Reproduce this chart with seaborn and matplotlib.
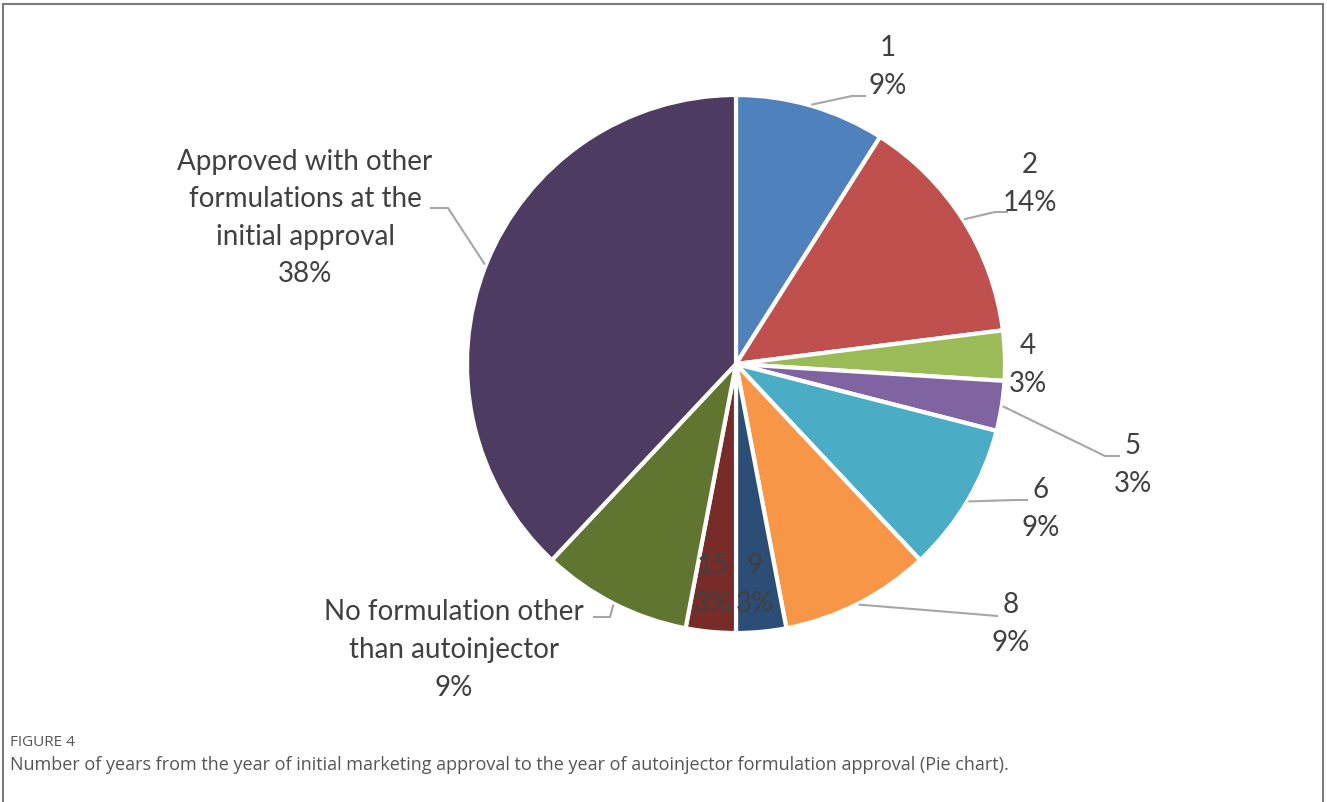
import matplotlib
matplotlib.use("Agg")
import numpy as np
import matplotlib.pyplot as plt
import seaborn as sns
from matplotlib.patches import Rectangle

# Share of products by years between initial approval and autoinjector approval
categories = ["1", "2", "4", "5", "6", "8", "9", "15",
              "No formulation other\nthan autoinjector",
              "Approved with other\nformulations at the\ninitial approval"]
percent = [9, 14, 3, 3, 9, 9, 3, 3, 9, 38]
colors = ["#4F81BD", "#C0504D", "#9BBB59", "#8064A2", "#4BACC6",
          "#F79646", "#2C4D75", "#772C2A", "#5F7530", "#4D3B62"]

caption_head = "FIGURE 4"
caption_body = ("Number of years from the year of initial marketing approval to the year "
                "of autoinjector formulation approval (Pie chart).")

W, H = 1327, 802
sns.set_theme(style="white")
plt.rcParams["font.family"] = ["Lato", "DejaVu Sans"]

fig = plt.figure(figsize=(W / 100, H / 100), dpi=100)
ax = fig.add_axes([0, 0, 1, 1])

cx, cy, R = 736, H - 364, 269
wedges, _ = ax.pie(percent, colors=colors, startangle=90, counterclock=False,
                   center=(cx, cy), radius=R,
                   wedgeprops=dict(edgecolor="white", linewidth=3))
ax.set_xlim(0, W)
ax.set_ylim(0, H)
ax.set_aspect("auto")
ax.axis("off")

TXT = "#404040"
LEAD = "#A6A6A6"
FS = 20


def mid_point(w, r):
    a = np.deg2rad((w.theta1 + w.theta2) / 2)
    return cx + r * np.cos(a), cy + r * np.sin(a)


# label layout: (text centre x, text block centre y, elbow points of leader or None)
layout = {
    "1": (888, 67, [(852, 96), (866, 96)]),
    "2": (1030, 184, [(995, 212), (1008, 212)]),
    "4": (1028, 365, None),
    "5": (1133, 465, [(1105, 456), (1120, 456)]),
    "6": (1041, 509, [(1015, 500), (1028, 500)]),
    "8": (1011, 624, [(998, 616), (998, 616)]),
    "9": (755, 585, None),
    "15": (713, 585, None),
    categories[8]: (454, 650, [(610, 617), (593, 617)]),
    categories[9]: (305, 218, [(448, 208), (430, 208)]),
}

for w, cat, p in zip(wedges, categories, percent):
    x, y, lead = layout[cat]
    ax.text(x, H - y, f"{cat}\n{p}%", ha="center", va="center",
            fontsize=FS, color=TXT, linespacing=1.55)
    if lead is not None:
        sx, sy = mid_point(w, R + 1)
        xs = [sx] + [px for px, _ in lead]
        ys = [sy] + [H - py for _, py in lead]
        ax.plot(xs, ys, color=LEAD, lw=1.5, solid_capstyle="butt")

# outer frame
fig.patches.append(Rectangle((3.5 / W, -0.1), (W - 7.5) / W, 1.1 - 4 / H,
                             transform=fig.transFigure, fill=False,
                             edgecolor="#7a7a7a", lw=1.5))

fig.text(10 / W, 1 - 742 / H, caption_head, fontsize=11, color="#555555",
         family=["Open Sans", "DejaVu Sans"], va="center", ha="left")
fig.text(10 / W, 1 - 765 / H, caption_body, fontsize=13, color="#555555",
         family=["Open Sans", "DejaVu Sans"], va="center", ha="left")

fig.savefig("out.png", dpi=100, facecolor="white")
